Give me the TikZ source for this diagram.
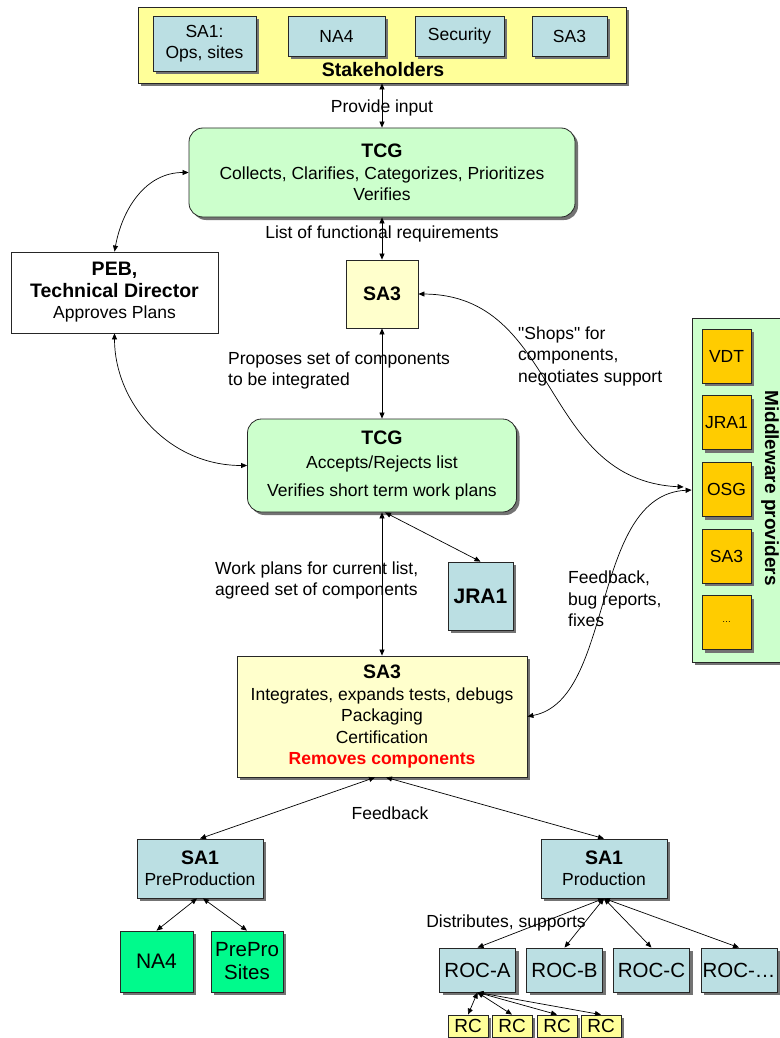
\documentclass[tikz,border=0pt]{standalone}
\usepackage{fontspec}
\setmainfont{Liberation Sans}
\usetikzlibrary{positioning,shadows,arrows.meta}

\definecolor{stakeyellow}{RGB}{255,255,153}
\definecolor{roleblue}{RGB}{187,223,227}
\definecolor{tcggreen}{RGB}{204,255,204}
\definecolor{sa3yellow}{RGB}{255,255,204}
\definecolor{mworange}{RGB}{255,204,0}
\definecolor{sitegreen}{RGB}{0,250,140}

\newcommand{\normtxt}{\fontsize{17.5}{21.5}\selectfont}
\newcommand{\hdrtxt}{\fontsize{19.5}{23}\selectfont\bfseries}
\newcommand{\bigtxt}{\fontsize{20.5}{23}\selectfont}

\begin{document}
\begin{tikzpicture}[x=1pt, y=-1pt, >={Triangle[length=6pt,width=5pt]}]
    \tikzset{box/.style={draw=black!85, line width=0.8pt, inner sep=0pt, align=center, font=\normtxt},
             boxshadow/.style={drop shadow={shadow xshift=3pt, shadow yshift=-3pt, fill=black!55, opacity=1}},
             conn/.style={<->, line width=0.7pt},
             lbl/.style={inner sep=0pt, font=\normtxt}}
    \useasboundingbox (0,0) rectangle (779,1038);

    % stakeholders
    \node[box, fill=stakeyellow, boxshadow, minimum width=488pt, minimum height=76pt] (stake) at (382,45) {};
    \node[box, fill=roleblue, boxshadow, minimum width=103pt, minimum height=55pt] (stakesa1) at (204.5,43.5) {SA1:\\Ops, sites};
    \node[box, fill=roleblue, boxshadow, minimum width=97pt, minimum height=40pt] (stakena4) at (336.5,36) {NA4};
    \node[box, fill=roleblue, boxshadow, minimum width=89pt, minimum height=40pt] (stakesec) at (459.5,36) {Security};
    \node[box, fill=roleblue, boxshadow, minimum width=75pt, minimum height=40pt] (stakesa3) at (569.5,36) {SA3};
    \node[font=\hdrtxt, inner sep=0pt] (stakelbl) at (383,70) {Stakeholders};

    % planning
    \node[box, rounded corners=14pt, fill=tcggreen, boxshadow, minimum width=386pt, minimum height=89pt] (tcg1) at (382,172.5)
        {{\hdrtxt TCG}\\Collects, Clarifies, Categorizes, Prioritizes\\Verifies};
    \node[box, fill=white, minimum width=207pt, minimum height=81pt] (peb) at (114.5,292.5)
        {{\hdrtxt PEB,}\\{\hdrtxt Technical Director}\\Approves Plans};
    \node[box, fill=sa3yellow, minimum width=72pt, minimum height=68pt, font=\hdrtxt] (sa3top) at (382,294) {SA3};
    \node[box, rounded corners=14pt, fill=tcggreen, boxshadow, minimum width=269pt, minimum height=93pt] (tcg2) at (382,465.5)
        {{\hdrtxt TCG}\\[3pt]Accepts/Rejects list\\[6pt]Verifies short term work plans};
    \node[box, fill=roleblue, boxshadow, minimum width=65pt, minimum height=68pt, font=\fontsize{21}{25}\selectfont\bfseries] (jra1) at (480.5,596) {JRA1};
    \node[box, fill=sa3yellow, boxshadow, minimum width=290pt, minimum height=121pt] (sa3bot) at (382,716.5)
        {{\hdrtxt SA3}\\Integrates, expands tests, debugs\\Packaging\\Certification\\{\bfseries\color{red}Removes components}};

    % middleware providers
    \node[box, fill=tcggreen, boxshadow, minimum width=90pt, minimum height=344pt] (mw) at (737,490) {};
    \foreach \name/\ypos/\txt in {mwvdt/356/VDT, mwjra/422.5/JRA1, mwosg/489.5/OSG, mwsa/556/SA3, mwmore/622.5/{\small\ldots}}
        \node[box, fill=mworange, boxshadow, minimum width=49pt, minimum height=54pt] (\name) at (726.5,\ypos) {\txt};
    \node[font=\fontsize{19}{23}\selectfont\bfseries, rotate=-90, inner sep=0pt] (mwlbl) at (770,488) {Middleware providers};

    % operations
    \node[box, fill=roleblue, boxshadow, minimum width=126pt, minimum height=59pt] (sa1pre) at (200,868.5) {{\hdrtxt SA1}\\PreProduction};
    \node[box, fill=roleblue, boxshadow, minimum width=126pt, minimum height=59pt] (sa1prod) at (604,868.5) {{\hdrtxt SA1}\\Production};
    \node[box, fill=sitegreen, boxshadow, minimum width=73pt, minimum height=61pt, font=\fontsize{21}{23}\selectfont] (na4) at (156.5,961.5) {NA4};
    \node[box, fill=sitegreen, boxshadow, minimum width=72pt, minimum height=61pt, font=\bigtxt] (prepro) at (247,961.5) {PrePro\\Sites};
    \foreach \name/\xpos/\txt in {roca/477.5/ROC-A, rocb/564.5/ROC-B, rocc/651.5/ROC-C, rocd/739/{ROC-\ldots}}
        \node[box, fill=roleblue, boxshadow, minimum width=76pt, minimum height=44pt, font=\bigtxt] (\name) at (\xpos,970) {\txt};
    \foreach \name/\xpos in {rca/468, rcb/512, rcc/557, rcd/601}
        \node[box, fill=stakeyellow, boxshadow, minimum width=40pt, minimum height=22pt, font=\fontsize{19}{21}\selectfont] (\name) at (\xpos,1026) {RC};

    % connectors
    \draw[conn] (stake.south) -- node[lbl, pos=.55] (lblinput) {Provide input} (tcg1.north);
    \draw[conn] (tcg1.south) -- node[lbl, pos=.4] (lblreq) {List of functional requirements} (sa3top.north);
    \draw[conn] (sa3top.south) -- (tcg2.north);
    \node[lbl, anchor=west, align=left] (lblprop) at (228,370.5) {Proposes set of components\\to be integrated};
    \draw[conn] (tcg2.south) -- (sa3bot.north);
    \node[lbl, anchor=west, align=left] (lblwork) at (215,580.5) {Work plans for current list,\\agreed set of components};
    \draw[conn] ([xshift=3pt]tcg2.south) -- (jra1.north);
    \draw[conn] (peb.north) .. controls (122,210) and (145,172.5) .. (tcg1.west);
    \draw[conn] (peb.south) .. controls (114.5,402) and (168,465.5) .. (tcg2.west);
    \draw[conn] (sa3top.east) .. controls (560,295) and (540,480) .. ([xshift=-8pt,yshift=3pt]mw.west);
    \node[lbl, anchor=west, align=left] (lblshops) at (518,356) {\textquotedbl Shops\textquotedbl{} for\\components,\\negotiates support};
    \draw[conn] (sa3bot.east) .. controls (615,700) and (590,495) .. (mw.west);
    \node[lbl, anchor=west, align=left] (lblfix) at (568,599) {Feedback,\\bug reports,\\fixes};
    \draw[conn] ([xshift=-7pt]sa3bot.south) -- (sa1pre.north);
    \draw[conn] ([xshift=4pt]sa3bot.south) -- (sa1prod.north);
    \node[lbl] (lblfeed) at (390,813) {Feedback};
    \draw[conn] ([xshift=-3pt]sa1pre.south) -- (na4.north);
    \draw[conn] ([xshift=3pt]sa1pre.south) -- (prepro.north);
    \foreach \r in {roca,rocb,rocc,rocd}
        \draw[conn] (sa1prod.south) -- (\r.north);
    \node[lbl] (lbldist) at (506,923) {Distributes, supports};
    \foreach \r in {rca,rcb,rcc,rcd}
        \draw[conn] (roca.south) -- (\r.north);
\end{tikzpicture}
\end{document}
